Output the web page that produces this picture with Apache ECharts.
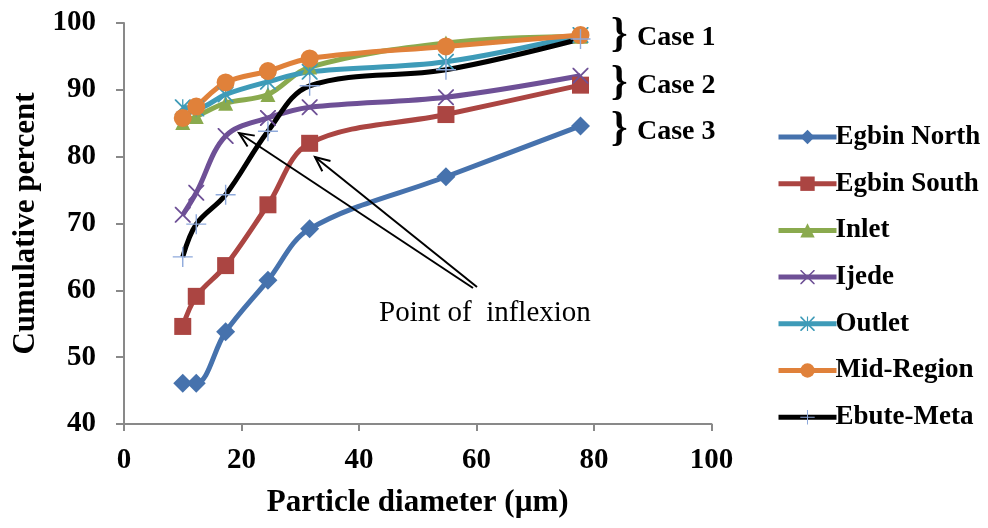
<!DOCTYPE html>
<html>
<head>
<meta charset="utf-8">
<script src="https://cdn.jsdelivr.net/npm/echarts@6/dist/echarts.min.js"></script>
<style>
html,body{margin:0;padding:0;background:#fff;}
#chart{width:988px;height:528px;}
</style>
</head>
<body>
<div id="chart"></div>
<script>
// Particle diameter (µm)
var diameters = [10, 12.3, 17.3, 24.5, 31.6, 54.8, 77.7];
var seriesNames = ['Egbin North','Egbin South','Inlet','Ijede','Outlet','Mid-Region','Ebute-Meta'];
var egbinNorth = [46.1, 46.1, 53.8, 61.5, 69.2, 77.0, 84.6];
var egbinSouth = [54.6, 59.1, 63.7, 72.8, 82.0, 86.3, 90.7];
var inlet      = [85.1, 86.0, 88.0, 89.3, 93.4, 97.0, 98.0];
var ijede      = [71.3, 74.6, 83.1, 85.8, 87.4, 88.9, 92.1];
var outlet     = [87.4, 87.2, 89.3, 91.2, 92.7, 94.2, 98.2];
var midRegion  = [85.8, 87.5, 91.1, 92.8, 94.7, 96.5, 98.2];
var ebuteMeta  = [65.0, 69.9, 74.3, 83.8, 90.6, 93.0, 97.6];
var xTicks = [0, 20, 40, 60, 80, 100];
var yTicks = [40, 50, 60, 70, 80, 90, 100];
var caseLabels = ['Case 1', 'Case 2', 'Case 3'];
var annotationText = 'Point of  inflexion';

function pairs(ys){ return diameters.map(function(x,i){ return [x, ys[i]]; }); }

var symX = 'path://M0,0 L1.6,0 L10,8.4 L18.4,0 L20,0 L20,1.6 L11.6,10 L20,18.4 L20,20 L18.4,20 L10,11.6 L1.6,20 L0,20 L0,18.4 L8.4,10 L0,1.6 Z';
var symPlus = 'path://M9.3,0 L10.7,0 L10.7,9.3 L20,9.3 L20,10.7 L10.7,10.7 L10.7,20 L9.3,20 L9.3,10.7 L0,10.7 L0,9.3 L9.3,9.3 Z';
var symStar = 'path://M0,0 L1.6,0 L10,8.4 L18.4,0 L20,0 L20,1.6 L11.6,10 L20,18.4 L20,20 L18.4,20 L10,11.6 L1.6,20 L0,20 L0,18.4 L8.4,10 L0,1.6 Z M9.2,0 L10.8,0 L10.8,20 L9.2,20 Z';

var FONT = '"Liberation Serif","Times New Roman",serif';
var styles = [
  {c:'#4672AD', sym:'diamond', size:19, data:egbinNorth},
  {c:'#AB4542', sym:'rect', size:17, data:egbinSouth},
  {c:'#8AAA4E', sym:'triangle', size:15, data:inlet},
  {c:'#6E5096', sym:symX, size:16, data:ijede},
  {c:'#3E9BB8', sym:symStar, size:16, data:outlet},
  {c:'#E0813A', sym:'circle', size:18, data:midRegion},
  {c:'#000000', sym:symPlus, size:20, data:ebuteMeta, mc:'#8EA9DB'}
];

var series = styles.map(function(s, i){
  return {
    name: seriesNames[i],
    type: 'line',
    data: pairs(s.data),
    smooth: 0.35,
    symbol: s.sym,
    symbolSize: s.size,
    showAllSymbol: true,
    lineStyle: {color: s.c, width: 5},
    itemStyle: {color: s.mc || s.c, borderWidth: 0},
    emphasis: {disabled: true},
    animation: false
  };
});

var chart = echarts.init(document.getElementById('chart'), null, {renderer:'canvas'});

var arrowColor = '#000';
function arrow(x1,y1,x2,y2){
  var ang = Math.atan2(y1-y2, x1-x2);
  var L = 16, a = 0.42;
  var w1 = [x2 + L*Math.cos(ang+a), y2 + L*Math.sin(ang+a)];
  var w2 = [x2 + L*Math.cos(ang-a), y2 + L*Math.sin(ang-a)];
  return [
    {type:'line', shape:{x1:x1,y1:y1,x2:x2,y2:y2}, style:{stroke:arrowColor, lineWidth:2}, z:100},
    {type:'polyline', shape:{points:[w1,[x2,y2],w2]}, style:{stroke:arrowColor, lineWidth:2, fill:null}, z:100}
  ];
}

var graphics = [];
graphics = graphics.concat(arrow(473, 288, 239, 133));
graphics = graphics.concat(arrow(477, 287, 315, 157));
graphics.push({type:'text', left:379, top:299, style:{text:annotationText, font:'29px '+FONT, fill:'#000'}, z:100});
var caseY = [35, 83, 129];
caseLabels.forEach(function(t, i){
  graphics.push({type:'text', x:611, y:caseY[i], style:{text:'}', font:'bold 42px '+FONT, fill:'#000', verticalAlign:'middle'}, z:100});
  graphics.push({type:'text', x:637, y:caseY[i]+3, style:{text:t, font:'bold 28px '+FONT, fill:'#000', verticalAlign:'middle'}, z:100});
});

chart.setOption({
  backgroundColor: '#fff',
  animation: false,
  grid: {left:124, right:276.5, top:23, bottom:104, containLabel:false},
  legend: {
    orient:'vertical',
    left:771, top:116,
    itemWidth:58, itemHeight:18,
    itemGap:14.7,
    lineStyle:{width:5},
    textStyle:{fontFamily:FONT, fontWeight:'bold', fontSize:27, color:'#000', lineHeight:32, padding:[0,0,0,-6]},
    data: seriesNames
  },
  xAxis: {
    type:'value', min:0, max:100, interval:20,
    name:'Particle diameter (µm)', nameLocation:'middle', nameGap:63,
    nameTextStyle:{fontFamily:FONT, fontWeight:'bold', fontSize:31, color:'#000'},
    axisLine:{show:true, lineStyle:{color:'#898989', width:2}},
    axisTick:{show:true, length:7, lineStyle:{color:'#898989', width:2}},
    splitLine:{show:false},
    axisLabel:{fontFamily:FONT, fontWeight:'bold', fontSize:29, color:'#000', margin:22,
      formatter:function(v){ return xTicks.indexOf(v) >= 0 ? String(v) : ''; }}
  },
  yAxis: {
    type:'value', min:40, max:100, interval:10,
    name:'Cumulative percent', nameLocation:'middle', nameGap:82,
    nameTextStyle:{fontFamily:FONT, fontWeight:'bold', fontSize:31, color:'#000'},
    axisLine:{show:true, lineStyle:{color:'#898989', width:2}},
    axisTick:{show:true, length:8, lineStyle:{color:'#898989', width:2}},
    splitLine:{show:false},
    axisLabel:{fontFamily:FONT, fontWeight:'bold', fontSize:29, color:'#000', margin:28,
      formatter:function(v){ return yTicks.indexOf(v) >= 0 ? String(v) : ''; }}
  },
  series: series,
  graphic: graphics
});
</script>
</body>
</html>
